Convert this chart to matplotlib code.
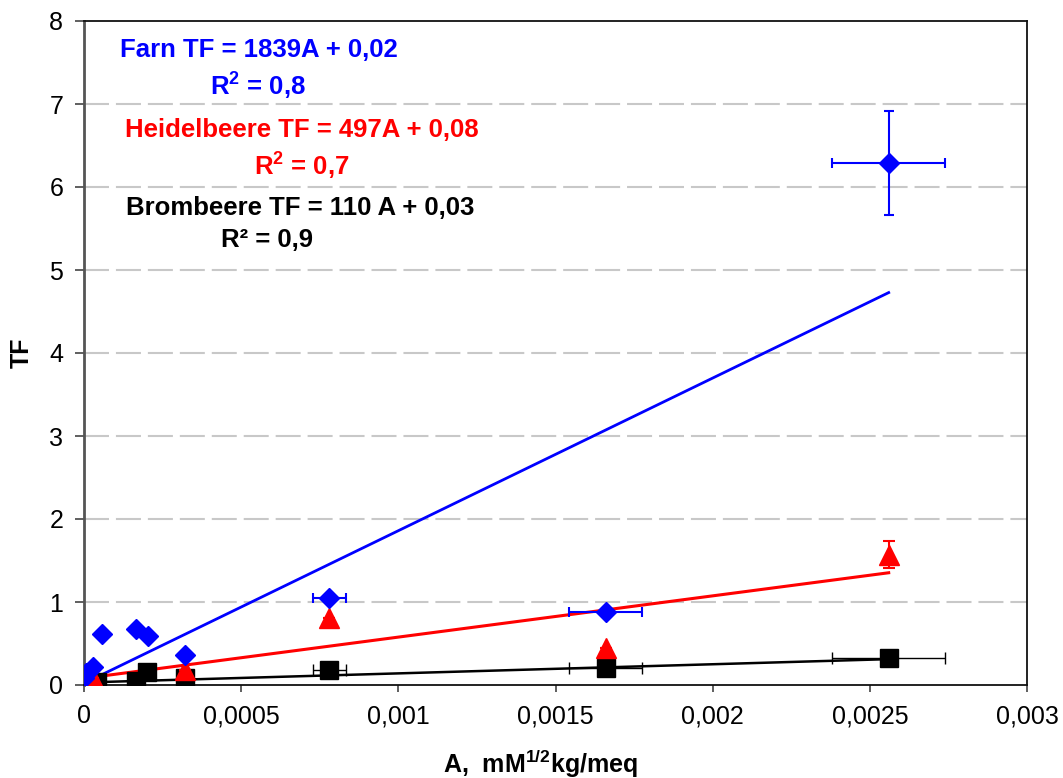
import matplotlib
matplotlib.use("Agg")
import matplotlib.pyplot as plt
import numpy as np

plt.rcParams['font.family'] = ['Liberation Sans', 'DejaVu Sans']
plt.rcParams['mathtext.fontset'] = 'custom'
plt.rcParams['mathtext.rm'] = 'Liberation Sans'
plt.rcParams['mathtext.bf'] = 'Liberation Sans:bold'
plt.rcParams['lines.scale_dashes'] = False

# ---- data ----
farn_x = [0.0, 0.000005, 0.00003, 0.000056, 0.000167, 0.000204, 0.00032, 0.00078, 0.00166, 0.00256]
farn_y = [0.08, 0.15, 0.22, 0.61, 0.68, 0.59, 0.36, 1.05, 0.88, 6.29]
farn_xerr = [0, 0, 0, 0, 0, 0, 0, 0.000053, 0.000116, 0.00018]
farn_yerr = [0, 0, 0, 0, 0, 0, 0, 0, 0, 0.63]

heid_x = [0.0, 0.000005, 0.00003, 0.00032, 0.00078, 0.00166, 0.00256]
heid_y = [0.04, 0.06, 0.08, 0.18, 0.81, 0.45, 1.57]
heid_yerr = [0, 0, 0, 0, 0, 0, 0.16]

brom_x = [0.0, 0.00001, 0.00004, 0.000167, 0.0002, 0.00032, 0.00078, 0.00166, 0.00256]
brom_y = [0.02, 0.05, 0.04, 0.05, 0.16, 0.08, 0.18, 0.21, 0.33]
brom_xerr = [0, 0, 0, 0, 0, 0, 0.000053, 0.000116, 0.00018]

fits = {
    'farn': (1839, 0.02),
    'heid': (497, 0.08),
    'brom': (110, 0.03),
}

xticks = [0, 0.0005, 0.001, 0.0015, 0.002, 0.0025, 0.003]
xticklabels = ['0', '0,0005', '0,001', '0,0015', '0,002', '0,0025', '0,003']
yticks = [0, 1, 2, 3, 4, 5, 6, 7, 8]

# ---- figure ----
L, R, T, B = 84, 1027, 21, 685
fig = plt.figure(figsize=(10.63, 7.78), dpi=100)
ax = fig.add_axes([L/1063, 1-B/778, (R-L)/1063, (B-T)/778])

ax.set_xlim(0, 0.003)
ax.set_ylim(0, 8)

for yv in yticks[1:-1]:
    ax.axhline(yv, color='#c8c8c8', lw=1.5, linestyle=(0, (18, 5)), zorder=0)

# regression lines
for key, xs, col, lw in [('farn', farn_x, 'blue', 2.0), ('heid', heid_x, 'red', 2.2), ('brom', brom_x, 'black', 1.8)]:
    m, b = fits[key]
    xx = np.array([min(xs) + 0.00001, max(xs)])
    ax.plot(xx, m*xx + b, color=col, lw=lw, zorder=2)

# Brombeere
ax.errorbar(brom_x, brom_y, xerr=brom_xerr, fmt='s', color='black', ms=13.5,
            ecolor='black', elinewidth=1.0, capsize=4, capthick=1.0, zorder=3)
# Heidelbeere
ax.errorbar(heid_x, heid_y, yerr=heid_yerr, fmt='^', color='red', ms=14,
            ecolor='red', elinewidth=1.5, capsize=4, capthick=1.5, zorder=4)
# Farn
ax.errorbar(farn_x, farn_y, xerr=farn_xerr, yerr=farn_yerr, fmt='D', color='blue', ms=9.8,
            ecolor='blue', elinewidth=1.5, capsize=3.5, capthick=1.5, zorder=5)

ax.set_xticks(xticks)
ax.set_xticklabels(xticklabels)
ax.set_yticks(yticks)
ax.tick_params(axis='both', direction='out', width=1.2, colors='#444444',
               labelcolor='black', labelsize=18)
ax.tick_params(axis='x', length=5, pad=9)
ax.tick_params(axis='y', length=6.5, pad=8.5)

ax.spines['left'].set_color('#555555')
ax.spines['left'].set_linewidth(2.0)
for s in ['top', 'right', 'bottom']:
    ax.spines[s].set_color('#111111')
    ax.spines[s].set_linewidth(1.3)

ax.set_xlabel(r'A,  mM$^{\mathbf{1/2}}$kg/meq', fontsize=18, fontweight='bold')
ax.xaxis.label.set_va('baseline')
ax.xaxis.set_label_coords((540 - L) / (R - L), (B - 773) / (B - T))
ax.set_ylabel('TF', fontsize=18, fontweight='bold')
ax.yaxis.label.set_va('center')
ax.yaxis.set_label_coords((22 - L) / (R - L), (B - 353) / (B - T))

def fxy(px, py):
    return (px - L) / (R - L), (B - py) / (B - T)

fs = 18.5
notes = [
    (259, 57, 'Farn TF = 1839A + 0,02', 'blue'),
    (258, 95, r'R$^{\mathbf{2}}$ = 0,8', 'blue'),
    (302, 137, 'Heidelbeere TF = 497A + 0,08', 'red'),
    (302, 175, r'R$^{\mathbf{2}}$ = 0,7', 'red'),
    (300, 215, 'Brombeere TF = 110 A + 0,03', 'black'),
    (267, 247, 'R² = 0,9', 'black'),
]
for px, py, txt, col in notes:
    ax.text(*fxy(px, py), txt, transform=ax.transAxes, color=col,
            fontsize=fs, fontweight='bold', ha='center', va='baseline')

fig.savefig('out.png', dpi=100)
